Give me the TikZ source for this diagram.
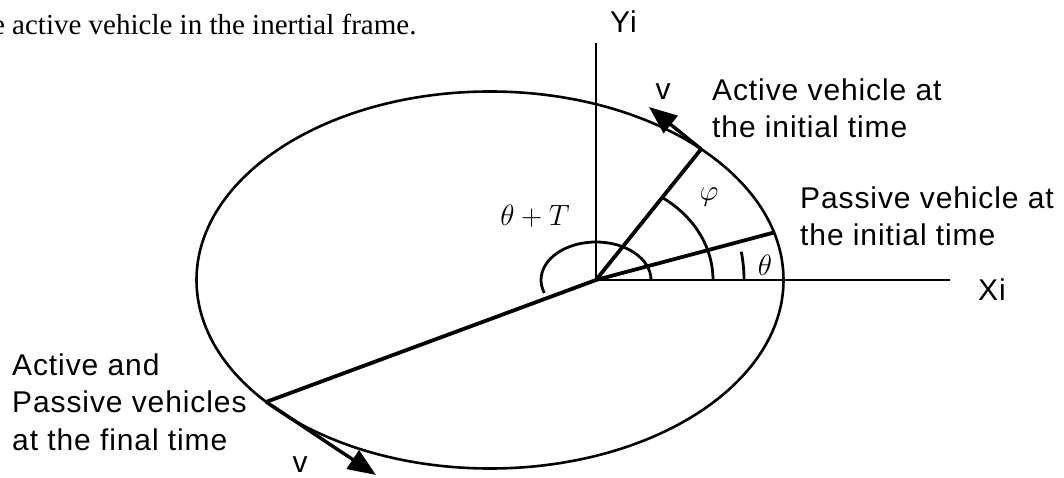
\documentclass[tikz,border=0pt]{standalone}
\usepackage{fontspec}
\newfontfamily\lab[LetterSpace=3]{Liberation Sans}
\newfontfamily\capfont{Liberation Serif}
\usetikzlibrary{arrows.meta,calc}
\begin{document}
\begin{tikzpicture}[x=1pt,y=1pt,
  lbl/.style={font=\lab\fontsize{30}{37.5}\selectfont, inner sep=0pt, align=left},
  mth/.style={font=\Huge, scale=1.18, inner sep=0pt},
  ell/.style={line width=2.6pt},
  axisline/.style={line width=2.4pt},
  radial/.style={line width=3.8pt},
  arcline/.style={line width=2.8pt},
  vel/.style={line width=3.4pt,-{Triangle[length=28pt,width=22pt]}}]
\useasboundingbox (0,0) rectangle (1064,-478);
\coordinate (C) at (490,-280);
\coordinate (O) at (596,-280);
\coordinate (Ytop) at (596,-43);
\coordinate (Xend) at (950,-280);
\coordinate (A) at ($(C)+(44:293.5 and 188.5)$);
\coordinate (P) at ($(C)+(14.6:293.5 and 188.5)$);
\coordinate (F) at ($(C)+(220.3:293.5 and 188.5)$);
\coordinate (Av) at (649,-107);
\coordinate (Fv) at (376,-475);
% orbit
\draw[ell] (C) ellipse [x radius=293.5, y radius=188.5];
% axes
\draw[axisline] (Ytop) -- (O) -- (Xend);
% radial lines
\draw[radial] (O) -- (A);
\draw[radial] (O) -- (P);
\draw[radial] (O) -- (F);
% angle arcs
\draw[arcline] ($(O)+(0:117 and 100)$) arc[start angle=0,end angle=55.3,x radius=117,y radius=100];
\draw[arcline] ($(O)+(0:148)$) arc[start angle=0,end angle=11,radius=148];
\draw[arcline] ($(O)+(0:55 and 38)$) arc[start angle=0,end angle=200,x radius=55,y radius=38];
% velocity arrows
\draw[vel] (A) -- (Av);
\draw[vel] (F) -- (Fv);
% labels
\node[lbl, anchor=north west] (la) at (712,-78.5) {Active vehicle at\\the initial time};
\node[lbl, anchor=north west] (lp) at (800,-186.5) {Passive vehicle at\\the initial time};
\node[lbl, anchor=north west] (lf) at (12,-353.5) {Active and\\Passive vehicles\\at the final time};
\node[lbl, anchor=base west] (yi) at (610,-33) {Yi};
\node[lbl, anchor=base west] (xi) at (978,-300) {Xi};
\node[lbl, anchor=base] (v1) at (663,-100) {v};
\node[lbl, anchor=base] (v2) at (300,-472) {v};
\node[mth] (thT) at (535,-216) {$\theta+T$};
\node[mth] (phi) at (709,-197) {$\varphi$};
\node[mth] (th) at (765,-265) {$\theta$};
\node[font=\capfont\fontsize{29}{31}\selectfont, inner sep=0pt, anchor=base west] (cap) at (-8.1,-35) {e active vehicle in the inertial frame.};
\end{tikzpicture}
\end{document}
